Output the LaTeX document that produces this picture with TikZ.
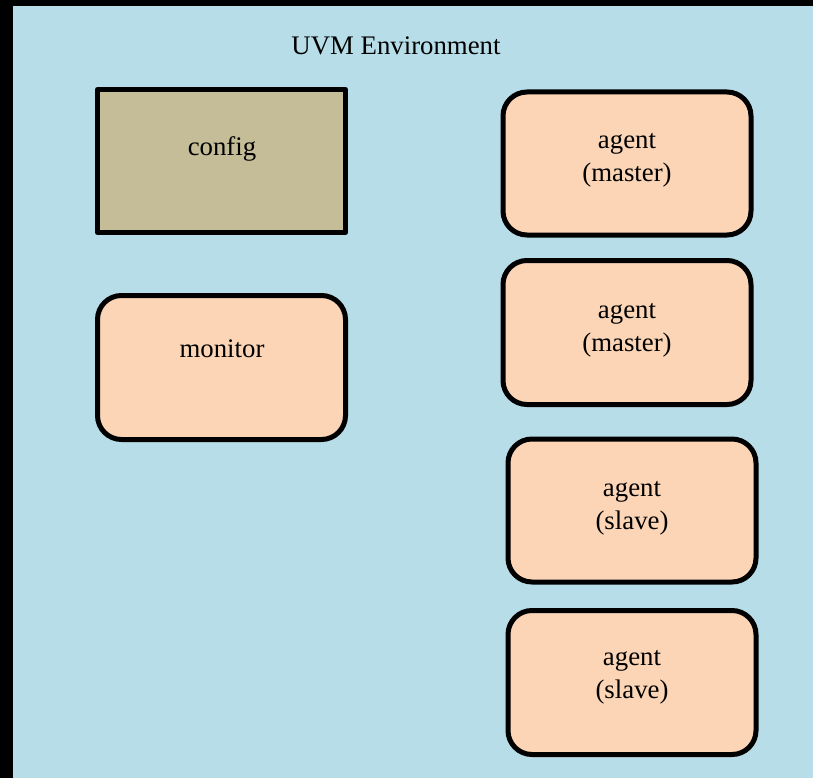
\documentclass[tikz,border=0pt]{standalone}
\usepackage{fontspec}
\setmainfont{Liberation Serif}
\definecolor{envblue}{HTML}{B7DDE8}
\definecolor{cfgtan}{HTML}{C4BD97}
\definecolor{agentpeach}{HTML}{FBD5B5}
\begin{document}
\begin{tikzpicture}[x=1pt,y=-1pt,
  box/.style={draw=black,line width=5pt,inner sep=0pt,minimum width=248pt,minimum height=143pt},
  cfgbox/.style={box,fill=cfgtan,line join=round},
  agentbox/.style={box,fill=agentpeach,rounded corners=24pt},
  txt/.style={font=\fontsize{26.8}{33}\selectfont,align=center,inner sep=0pt,text=black}]
\useasboundingbox (0,0) rectangle (813,778);
\fill[black] (0,0) rectangle (813,778);
\fill[envblue] (13,6) rectangle (813,778);
\node[txt] (title) at (396,46) {UVM Environment};
\node[cfgbox] (config) at (221.5,161) {};
\node[txt] (configt) at (222,149) {config};
\node[agentbox,minimum height=144pt] (monitor) at (221.5,367.5) {};
\node[txt] (monitort) at (222,349) {monitor};
\node[agentbox,minimum height=143pt] (m1) at (627,163.5) {};
\node[txt] (m1t) at (627,160) {agent\\(master)};
\node[agentbox,minimum height=144pt] (m2) at (627,332.5) {};
\node[txt] (m2t) at (627,330) {agent\\(master)};
\node[agentbox,minimum height=143pt] (s1) at (632,510.5) {};
\node[txt] (s1t) at (632,508) {agent\\(slave)};
\node[agentbox,minimum height=144pt] (s2) at (632,682.5) {};
\node[txt] (s2t) at (632,677) {agent\\(slave)};
\end{tikzpicture}
\end{document}
